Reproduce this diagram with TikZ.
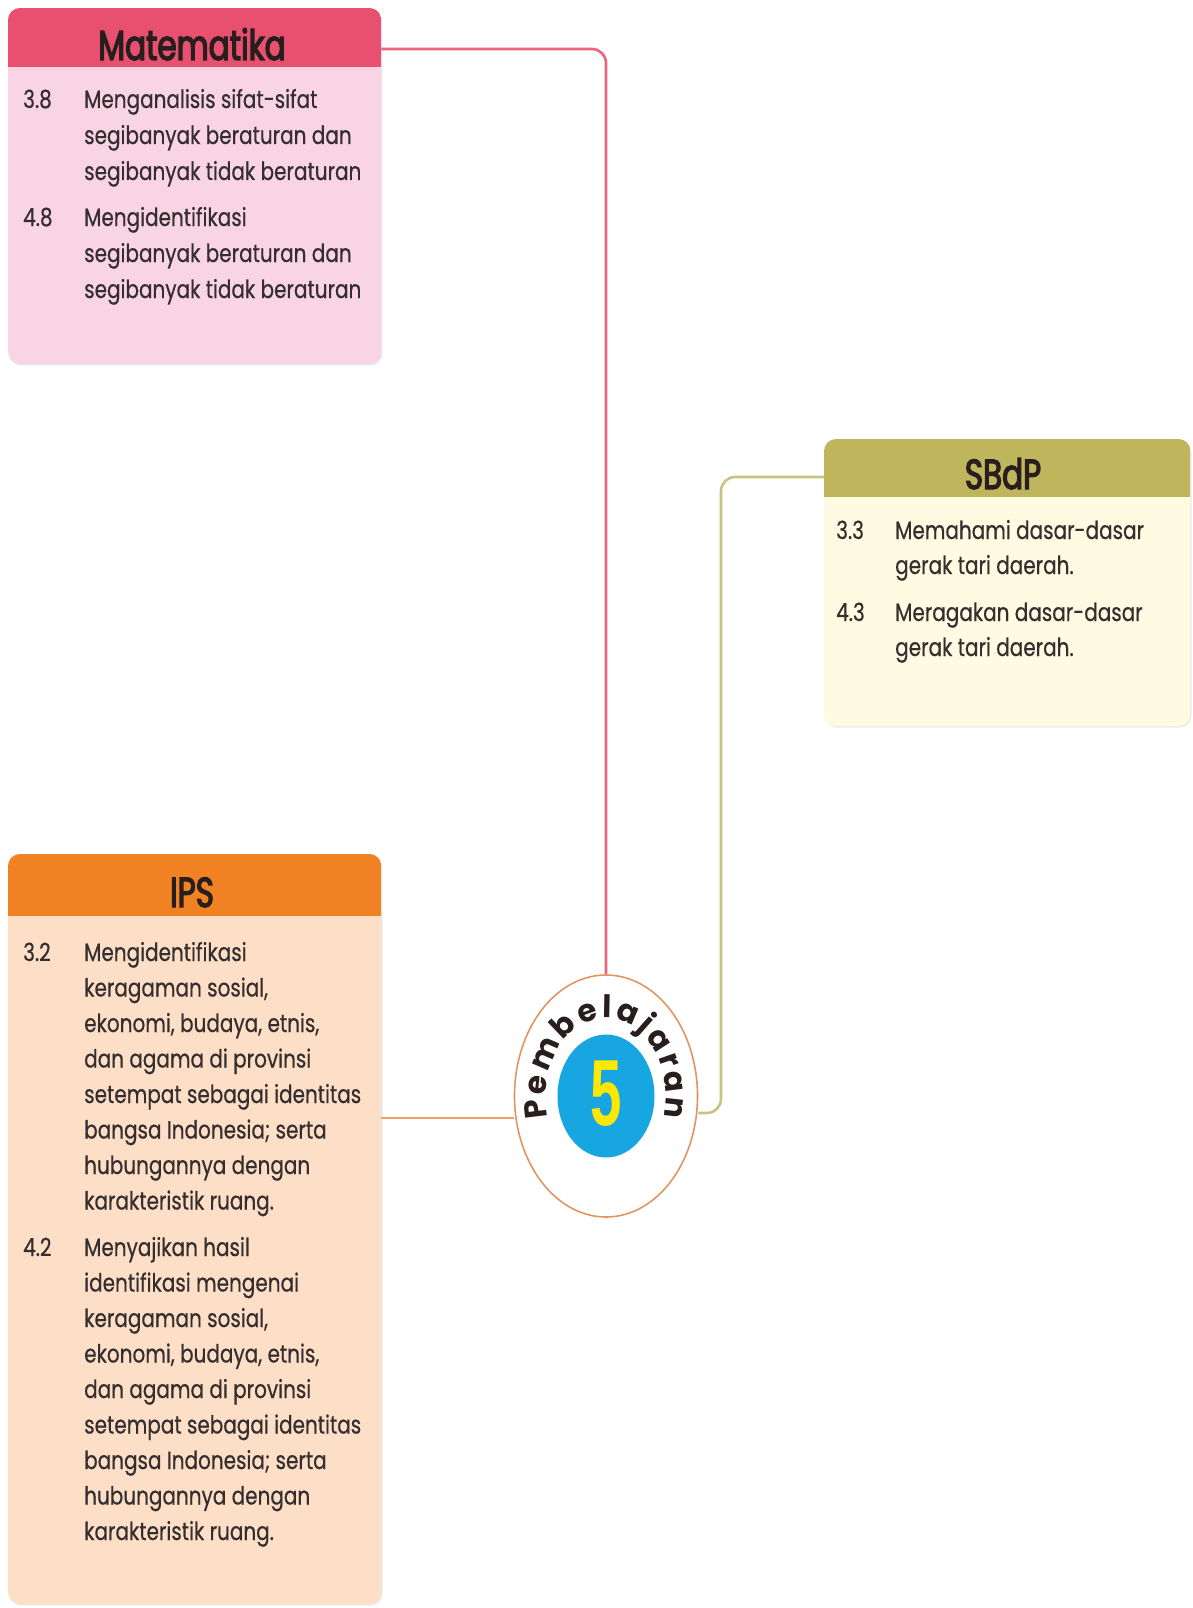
\documentclass[tikz,border=0pt]{standalone}
\usepackage{fontspec}
\setmainfont{Poppins}[FakeStretch=0.8,FakeBold=0.5]
\newfontfamily\titlefont{Poppins}[FakeStretch=0.74,FakeBold=3]
\newfontfamily\fivefont{Liberation Sans}
\newfontfamily\arcfont{Poppins}
\usetikzlibrary{shapes.geometric,decorations.text,shadows}
\definecolor{mhead}{RGB}{232,80,112}
\definecolor{mbody}{RGB}{249,212,228}
\definecolor{shead}{RGB}{190,181,92}
\definecolor{sbody}{RGB}{255,251,226}
\definecolor{ihead}{RGB}{240,130,36}
\definecolor{ibody}{RGB}{253,222,198}
\definecolor{mlinec}{RGB}{236,100,125}
\definecolor{slinec}{RGB}{200,195,128}
\definecolor{ilinec}{RGB}{236,160,100}
\definecolor{ringc}{RGB}{224,150,100}
\definecolor{bluec}{RGB}{24,166,226}
\definecolor{fivec}{RGB}{255,232,0}
\definecolor{txt}{RGB}{52,46,46}
\definecolor{ttl}{RGB}{40,30,30}
\tikzset{
  card/.style={rectangle, rounded corners=12pt, anchor=north west, inner sep=0pt,
    drop shadow={opacity=0.15, shadow xshift=1.5pt, shadow yshift=-1.5pt}},
  num/.style={anchor=base west, inner sep=0pt, text=txt, font=\fontsize{25}{36}\selectfont},
  item/.style={anchor=base west, inner sep=0pt, text=txt, font=\fontsize{25}{#1}\selectfont},
  item/.default=36,
  title/.style={anchor=base, inner sep=0pt, text=ttl, font=\titlefont\fontsize{42}{44}\selectfont},
  conn/.style={line width=2.6pt, rounded corners=14pt},
}
\begin{document}
\begin{tikzpicture}[x=1pt,y=1pt]
\fill[white] (0,0) rectangle (1193,-1608);
\useasboundingbox (0,0) rectangle (1193,-1608);

% cards
\node[card, fill=mbody, minimum width=373pt, minimum height=356pt] (mbox) at (8,-8) {};
\node[card, fill=sbody, minimum width=366pt, minimum height=287pt] (sbox) at (824,-439) {};
\node[card, fill=ibody, minimum width=373pt, minimum height=750pt] (ibox) at (8,-854) {};

\begin{scope}
\clip[rounded corners=12pt] (mbox.south west) rectangle (mbox.north east);
\fill[mhead] (mbox.north west) rectangle ([yshift=-59pt]mbox.north east);
\end{scope}
\begin{scope}
\clip[rounded corners=12pt] (sbox.south west) rectangle (sbox.north east);
\fill[shead] (sbox.north west) rectangle ([yshift=-58pt]sbox.north east);
\end{scope}
\begin{scope}
\clip[rounded corners=12pt] (ibox.south west) rectangle (ibox.north east);
\fill[ihead] (ibox.north west) rectangle ([yshift=-62pt]ibox.north east);
\end{scope}

% titles
\node[title] (mtitle) at (192,-60) {Matematika};
\node[title] (stitle) at (1003,-489) {SBdP};
\node[title] (ititle) at (192,-907) {IPS};

% Matematika items
\node[num] (m38n) at (23,-108) {3.8};
\node[item] (m38t) at (84,-108) {\parbox[t]{300pt}{\raggedright Menganalisis sifat-sifat\\segibanyak beraturan dan\\segibanyak tidak beraturan}};
\node[num] (m48n) at (23,-226) {4.8};
\node[item] (m48t) at (84,-226) {\parbox[t]{300pt}{\raggedright Mengidentifikasi\\segibanyak beraturan dan\\segibanyak tidak beraturan}};

% SBdP items
\node[num] (s33n) at (836,-539) {3.3};
\node[item=35] (s33t) at (895,-539) {\parbox[t]{290pt}{\raggedright Memahami dasar-dasar\\gerak tari daerah.}};
\node[num] (s43n) at (836,-621) {4.3};
\node[item=35] (s43t) at (895,-621) {\parbox[t]{290pt}{\raggedright Meragakan dasar-dasar\\gerak tari daerah.}};

% IPS items
\node[num] (i32n) at (23,-961) {3.2};
\node[item=35.5] (i32t) at (84,-961) {\parbox[t]{300pt}{\raggedright Mengidentifikasi\\keragaman sosial,\\ekonomi, budaya, etnis,\\dan agama di provinsi\\setempat sebagai identitas\\bangsa Indonesia; serta\\hubungannya dengan\\karakteristik ruang.}};
\node[num] (i42n) at (23,-1256) {4.2};
\node[item=35.5] (i42t) at (84,-1256) {\parbox[t]{300pt}{\raggedright Menyajikan hasil\\identifikasi mengenai\\keragaman sosial,\\ekonomi, budaya, etnis,\\dan agama di provinsi\\setempat sebagai identitas\\bangsa Indonesia; serta\\hubungannya dengan\\karakteristik ruang.}};

% centre
\node[ellipse, draw=ringc, line width=1.6pt, fill=white, minimum width=183pt, minimum height=242pt, inner sep=0pt] (circ) at (606,-1096) {};
\node[ellipse, fill=bluec, minimum width=97pt, minimum height=123pt, inner sep=0pt] (blue) at (606,-1096) {};
\node[font=\fivefont\bfseries\fontsize{94}{94}\selectfont, text=fivec, xscale=0.6, inner sep=0pt] (five) at (606,-1094) {5};
\begin{scope}[shift={(606,-1096)}, yscale=1.3]
\path[decorate, decoration={text along path, text={|\arcfont\bfseries\fontsize{31}{31}\selectfont\color{ttl}|Pembelajaran}, text align={fit to path}}]
  (196:60pt) arc[start angle=196, end angle=-16, radius=60pt];
\end{scope}

% connectors
\coordinate (sbk) at (721,-1113);
\draw[conn, mlinec] (mbox.east |- 0,-49) -| (circ.north);
\draw[conn, slinec] (sbox.west |- 0,-477) -| (sbk) -- (circ.east |- sbk);
\draw[conn, ilinec] (ibox.east |- 0,-1118) -- (circ.west |- 0,-1118);
\end{tikzpicture}
\end{document}
